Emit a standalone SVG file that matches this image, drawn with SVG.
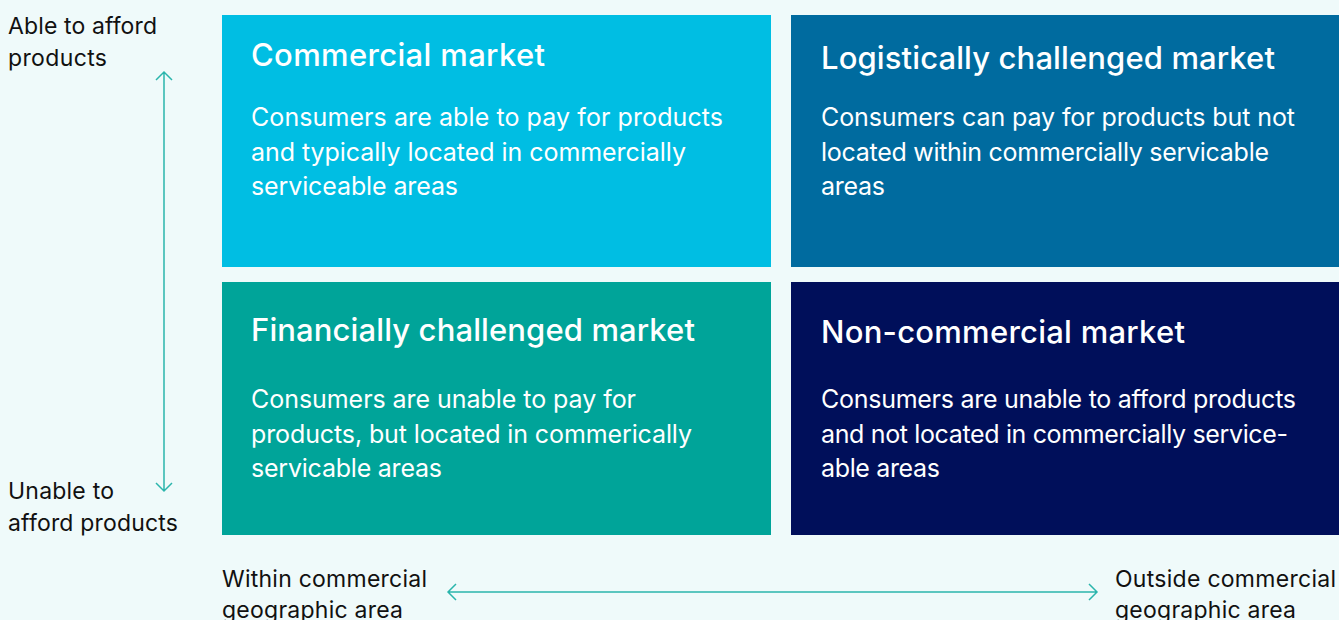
<svg xmlns="http://www.w3.org/2000/svg" width="1339" height="620" viewBox="0 0 1339 620">
<defs>
<style>
.t{font-family:Inter,"Liberation Sans",sans-serif;font-size:31px;font-weight:500;fill:#fff}
.b{font-family:Inter,"Liberation Sans",sans-serif;font-size:25px;fill:#fff}
.l{font-family:Inter,"Liberation Sans",sans-serif;font-size:23px;fill:#111}
.ax{stroke:#2bb5ac;stroke-width:1.5;fill:none}
</style>
</defs>
<rect width="1339" height="620" fill="#effafa"/>
<g id="commercial">
<rect x="222" y="15" width="549" height="252" fill="#00bee3"/>
<text class="t" x="251" y="66" textLength="294" lengthAdjust="spacing">Commercial market</text>
<text class="b" x="251" y="126" textLength="472" lengthAdjust="spacing">Consumers are able to pay for products</text>
<text class="b" x="251" y="161" textLength="435" lengthAdjust="spacing">and typically located in commercially</text>
<text class="b" x="251" y="195" textLength="207" lengthAdjust="spacing">serviceable areas</text>
</g>
<g id="logistically">
<rect x="791" y="15" width="548" height="252" fill="#006b9f"/>
<text class="t" x="821" y="69" textLength="454" lengthAdjust="spacing">Logistically challenged market</text>
<text class="b" x="821" y="126" textLength="474" lengthAdjust="spacing">Consumers can pay for products but not</text>
<text class="b" x="821" y="161" textLength="448" lengthAdjust="spacing">located within commercially servicable</text>
<text class="b" x="821" y="195" textLength="64" lengthAdjust="spacing">areas</text>
</g>
<g id="financially">
<rect x="222" y="282" width="549" height="253" fill="#00a499"/>
<text class="t" x="251" y="341" textLength="444" lengthAdjust="spacing">Financially challenged market</text>
<text class="b" x="251" y="408" textLength="385" lengthAdjust="spacing">Consumers are unable to pay for</text>
<text class="b" x="251" y="443" textLength="441" lengthAdjust="spacing">products, but located in commerically</text>
<text class="b" x="251" y="477" textLength="191" lengthAdjust="spacing">servicable areas</text>
</g>
<g id="noncommercial">
<rect x="791" y="282" width="548" height="253" fill="#000f5a"/>
<text class="t" x="821" y="343" textLength="364" lengthAdjust="spacing">Non-commercial market</text>
<text class="b" x="821" y="408" textLength="475" lengthAdjust="spacing">Consumers are unable to afford products</text>
<text class="b" x="821" y="443" textLength="467" lengthAdjust="spacing">and not located in commercially service-</text>
<text class="b" x="821" y="477" textLength="119" lengthAdjust="spacing">able areas</text>
</g>
<g id="labels">
<text class="l" x="8" y="34" textLength="149" lengthAdjust="spacing">Able to afford</text>
<text class="l" x="8" y="66" textLength="99" lengthAdjust="spacing">products</text>
<text class="l" x="8" y="499" textLength="106" lengthAdjust="spacing">Unable to</text>
<text class="l" x="8" y="531" textLength="170" lengthAdjust="spacing">afford products</text>
<text class="l" x="222" y="587" textLength="205" lengthAdjust="spacing">Within commercial</text>
<text class="l" x="222" y="618" textLength="181" lengthAdjust="spacing">geographic area</text>
<text class="l" x="1115" y="587" textLength="221" lengthAdjust="spacing">Outside commercial</text>
<text class="l" x="1115" y="618" textLength="181" lengthAdjust="spacing">geographic area</text>
</g>
<g id="connectors">
<path class="ax" d="M164 72V491M156 80L164 72L172 80M156 483L164 491L172 483"/>
<path class="ax" d="M448 592H1097M456 584L448 592L456 600M1089 584L1097 592L1089 600"/>
</g>
</svg>
